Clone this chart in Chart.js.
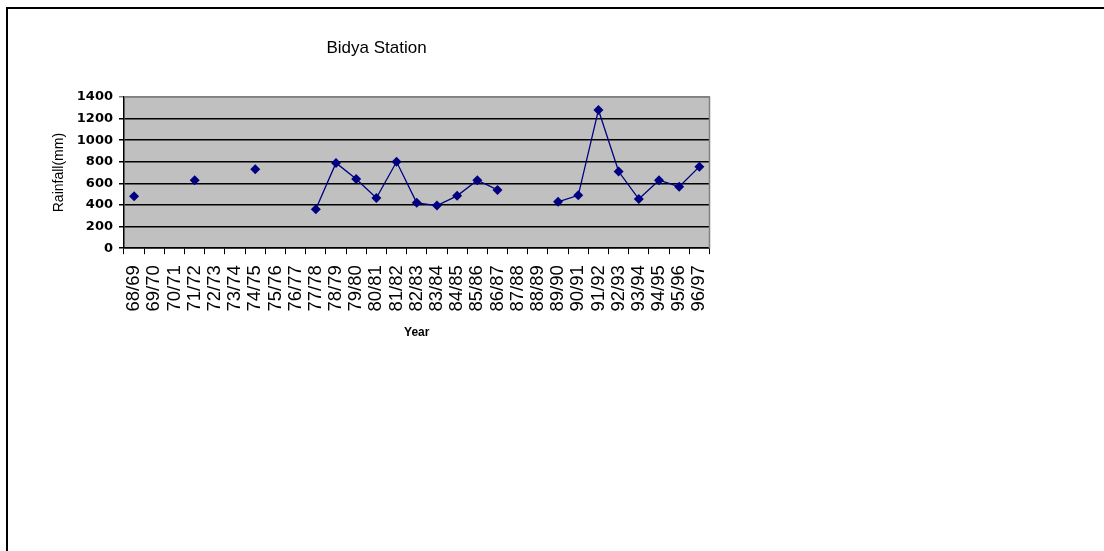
<!DOCTYPE html>
<html>
<head>
<meta charset="utf-8">
<title>Bidya Station</title>
<script src="https://cdn.jsdelivr.net/npm/chart.js@4.4.1/dist/chart.umd.min.js"></script>
<style>
  html, body { margin: 0; padding: 0; background: #fff; overflow: hidden; }
  #wrap { position: relative; width: 1104px; height: 551px; }
  #chart { position: absolute; left: 0; top: 0; }
  #frame {
    position: absolute; left: 6px; top: 7px; width: 1200px; height: 700px;
    border-top: 2px solid #000; border-left: 2px solid #000; pointer-events: none;
  }
</style>
</head>
<body>
<div id="wrap">
  <canvas id="chart" width="1104" height="551"></canvas>
  <div id="frame"></div>
</div>
<script>
// Hydrological years on the category axis
const years = [
  '68/69', '69/70', '70/71', '71/72', '72/73', '73/74', '74/75', '75/76',
  '76/77', '77/78', '78/79', '79/80', '80/81', '81/82', '82/83', '83/84',
  '84/85', '85/86', '86/87', '87/88', '88/89', '89/90', '90/91', '91/92',
  '92/93', '93/94', '94/95', '95/96', '96/97'
];

// Annual rainfall (mm); null marks years without a record
const rainfall = [
  480, null, null, 630, null, null, 730, null,
  null, 360, 790, 640, 465, 800, 420, 395,
  485, 630, 540, null, null, 430, 490, 1280,
  710, 455, 630, 570, 755
];

// Value axis ticks
const yMin = 0;
const yMax = 1400;
const yStep = 200;

const navy = '#000080';

// Grey plot background plus a grey top/right edge
const plotFrame = {
  id: 'plotFrame',
  beforeDraw(chart) {
    const { ctx, chartArea: a } = chart;
    ctx.save();
    ctx.fillStyle = '#c0c0c0';
    ctx.fillRect(a.left, a.top, a.right - a.left, a.bottom - a.top);
    ctx.restore();
  },
  beforeDatasetsDraw(chart) {
    const { ctx, chartArea: a } = chart;
    ctx.save();
    ctx.strokeStyle = '#808080';
    ctx.lineWidth = 1.5;
    ctx.beginPath();
    ctx.moveTo(a.left, a.top);
    ctx.lineTo(a.right, a.top);
    ctx.lineTo(a.right, a.bottom);
    ctx.stroke();
    ctx.restore();
  }
};

Chart.defaults.font.family = "'Liberation Sans', Arial, sans-serif";
Chart.defaults.color = '#000';

new Chart(document.getElementById('chart'), {
  type: 'line',
  data: {
    labels: years,
    datasets: [{
      label: 'Rainfall(mm)',
      data: rainfall,
      borderColor: navy,
      backgroundColor: navy,
      borderWidth: 1.3,
      pointStyle: 'rectRot',
      pointRadius: 5,
      pointHoverRadius: 5,
      pointBackgroundColor: navy,
      pointBorderColor: navy,
      pointBorderWidth: 0,
      spanGaps: false,
      tension: 0
    }]
  },
  options: {
    responsive: false,
    animation: false,
    devicePixelRatio: 1,
    layout: { padding: { left: 43.5, right: 394.5, top: 0, bottom: 210.8 } },
    plugins: {
      legend: { display: false },
      tooltip: { enabled: false },
      title: {
        display: true,
        text: 'Bidya Station',
        color: '#000',
        font: { size: 17, weight: 'normal' },
        padding: { top: 38.5, bottom: 38.1 }
      }
    },
    scales: {
      x: {
        type: 'category',
        offset: true,
        afterFit(scale) { scale.height = 92; },
        grid: {
          offset: true,
          drawOnChartArea: false,
          drawTicks: true,
          tickLength: 6,
          color: '#000',
          lineWidth: 1
        },
        border: { display: true, color: '#000', width: 1.5 },
        ticks: {
          autoSkip: false,
          maxRotation: 90,
          minRotation: 90,
          padding: 11,
          color: '#000',
          font: { size: 18.5 }
        },
        title: {
          display: true,
          text: 'Year',
          color: '#000',
          font: { size: 12, weight: 'bold' },
          padding: { top: 0, bottom: 0 }
        }
      },
      y: {
        min: yMin,
        max: yMax,
        afterFit(scale) { scale.width = 80.5; },
        grid: {
          drawTicks: true,
          tickLength: 5,
          color: (c) => (c.tick && c.tick.value === yMax ? '#808080' : '#000'),
          lineWidth: 1.5
        },
        border: { display: true, color: '#000', width: 1.5 },
        ticks: {
          stepSize: yStep,
          padding: 6,
          color: '#000',
          font: { family: "'DejaVu Sans', sans-serif", size: 13, weight: 'bold' },
          callback: (v) => String(v)
        },
        title: {
          display: true,
          text: 'Rainfall(mm)',
          color: '#000',
          font: { size: 14, weight: 'normal' },
          padding: { top: 7, bottom: 0 }
        }
      }
    }
  },
  plugins: [plotFrame]
});
</script>
</body>
</html>
